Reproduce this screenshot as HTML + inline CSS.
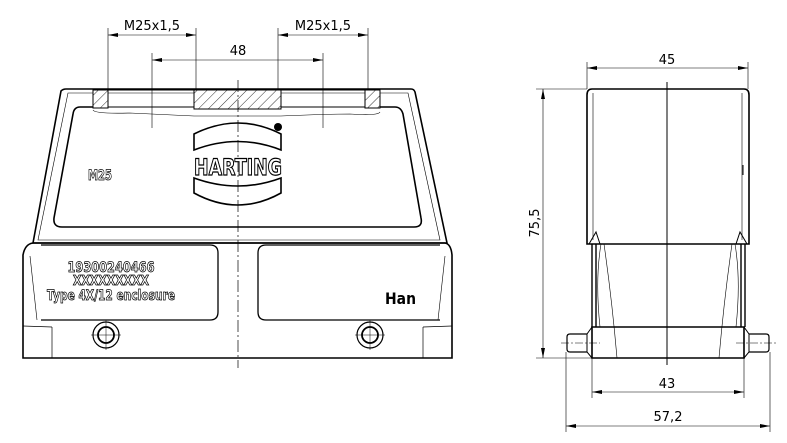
<!DOCTYPE html>
<html><head><meta charset="utf-8"><style>
html,body{margin:0;padding:0;background:#fff}
svg{display:block}
text{font-family:"DejaVu Sans","Liberation Sans",sans-serif}
</style></head><body>
<svg width="787" height="443" viewBox="0 0 787 443" xmlns="http://www.w3.org/2000/svg">
<defs>
<pattern id="h" width="7" height="7" patternUnits="userSpaceOnUse" patternTransform="rotate(45)">
<rect width="7" height="7" fill="#fff"/><line x1="0" y1="0" x2="0" y2="7" stroke="#000" stroke-width="0.8"/>
</pattern>
<marker id="a" viewBox="0 0 10 4" refX="10" refY="2" markerWidth="10" markerHeight="4" orient="auto-start-reverse" markerUnits="userSpaceOnUse"><path d="M0,0 L10,2 L0,4z" fill="#000"/></marker>
</defs>
<g fill="none" stroke="#000">
<path d="M61,91 Q63,89 66,89 L411,89 Q414,89 415,92 L447,243 L33,243 Z" stroke-width="1.6"/>
<path d="M68,93 L408,93 L440,240 L38,240 Z" stroke-width="0.6"/>
<path d="M23,358 L23,255 Q25,244 33,243 L445,243 Q451,244 452,255 L452,358 Z" stroke-width="1.6"/>
<line x1="52" y1="327" x2="52" y2="358" stroke-width="0.7"/>
<line x1="23" y1="326" x2="52" y2="327" stroke-width="0.7"/>
<line x1="423" y1="327" x2="423" y2="358" stroke-width="0.7"/>
<line x1="423" y1="327" x2="452" y2="326" stroke-width="0.7"/>
<line x1="30" y1="256" x2="37" y2="320" stroke-width="0.6"/>
<line x1="445" y1="256" x2="438" y2="320" stroke-width="0.6"/>
<path d="M93,107 L80,107 Q74,107 73,114 L54,218 Q53,227 62,227 L414,227 Q423,227 421,218 L403,114 Q401,107 395,107 L380,107" stroke-width="1.6"/>
<path d="M93,110 Q95,114 130,113 Q150,114 194,116 L281,116 Q330,114 350,114 Q378,116 380,112" stroke-width="0.6"/>
<rect x="108" y="90" width="86" height="17" stroke-width="1"/>
<rect x="281" y="90" width="84" height="17" stroke-width="1"/>
<rect x="93" y="90" width="15" height="18" fill="url(#h)" stroke-width="1"/>
<rect x="194" y="90" width="87" height="19" fill="url(#h)" stroke-width="1"/>
<rect x="365" y="90" width="15" height="18" fill="url(#h)" stroke-width="1"/>
<path d="M41,245 L210,245 Q218,245 218,253 L218,312 Q218,320 210,320 L41,320" stroke-width="1.3"/>
<path d="M440,245 L266,245 Q258,245 258,253 L258,312 Q258,320 266,320 L440,320" stroke-width="1.3"/>
<circle cx="106" cy="335" r="13" stroke-width="1.2"/><circle cx="106" cy="335" r="8" stroke-width="1.8"/>
<circle cx="370" cy="335" r="13" stroke-width="1.2"/><circle cx="370" cy="335" r="8" stroke-width="1.8"/>
<path d="M91,335h30M106,320v30M355,335h30M370,320v30" stroke-width="0.5"/>
<line x1="238" y1="80" x2="238" y2="368" stroke-width="0.7" stroke-dasharray="12,3,2,3"/>
<path d="M194,134 Q238,112 281,134 L281,150 Q238,133 194,150 Z" stroke-width="1.6"/>
<path d="M194,178 Q238,194 281,178 L281,193 Q238,217 194,193 Z" stroke-width="1.6"/>
<circle cx="278" cy="127" r="4" fill="#000" stroke="none"/>
<path d="M108,28V90M196,28V90M278,28V90M368,28V90M152,53V128M323,53V128M587,62V89M748,62V89M536,89H587M536,358H592M592,358V398M744,358V398M566,352V432M770,352V432" stroke-width="0.6"/>
<line x1="108" y1="35" x2="196" y2="35" stroke-width="0.6" marker-start="url(#a)" marker-end="url(#a)"/>
<line x1="278" y1="35" x2="368" y2="35" stroke-width="0.6" marker-start="url(#a)" marker-end="url(#a)"/>
<line x1="152" y1="60" x2="323" y2="60" stroke-width="0.6" marker-start="url(#a)" marker-end="url(#a)"/>
<line x1="587" y1="68" x2="748" y2="68" stroke-width="0.6" marker-start="url(#a)" marker-end="url(#a)"/>
<line x1="543" y1="89" x2="543" y2="358" stroke-width="0.6" marker-start="url(#a)" marker-end="url(#a)"/>
<line x1="592" y1="392" x2="744" y2="392" stroke-width="0.6" marker-start="url(#a)" marker-end="url(#a)"/>
<line x1="566" y1="426" x2="770" y2="426" stroke-width="0.6" marker-start="url(#a)" marker-end="url(#a)"/>
<path d="M592,89 L744,89 Q749,89 749,95 L749,244 L587,244 L587,95 Q587,89 592,89 Z" stroke-width="1.6"/>
<line x1="593" y1="93" x2="593" y2="240" stroke-width="0.6"/>
<line x1="742" y1="93" x2="742" y2="240" stroke-width="0.6"/>
<line x1="743" y1="165" x2="743" y2="175" stroke-width="1"/>
<path d="M589,244 L596,232 L600,244M747,244 L740,232 L736,244" stroke-width="1"/>
<path d="M592,244 L592,327 M596,244 L596,327 M745,244 L745,327 M741,244 L741,327" stroke-width="1.4"/>
<path d="M601,244 Q595,280 600,327 M604,244 Q612,300 617,358 M735,244 Q741,280 736,327 M732,244 Q724,300 719,358" stroke-width="0.6"/>
<line x1="600" y1="244" x2="736" y2="244" stroke-width="0.6"/>
<path d="M592,327 L744,327 L744,358 L592,358 Z" stroke-width="1.6"/>
<path d="M592,327 L587,334 L587,352 L592,358 M744,327 L749,334 L749,352 L744,358" stroke-width="1"/>
<path d="M587,334 L570,334 Q567,334 567,337 L567,349 Q567,352 570,352 L587,352 M749,334 L766,334 Q769,334 769,337 L769,349 Q769,352 766,352 L749,352" stroke-width="1.2"/>
<path d="M561,343H600M736,343H776" stroke-width="0.5" stroke-dasharray="8,2,2,2"/>
<line x1="667" y1="82" x2="667" y2="365" stroke-width="1"/>
</g>
<g font-size="13" fill="#000">
<text x="152" y="30" text-anchor="middle">M25x1,5</text>
<text x="323" y="30" text-anchor="middle">M25x1,5</text>
<text x="238" y="55" text-anchor="middle">48</text>
<text x="667" y="64" text-anchor="middle">45</text>
<text x="667" y="388" text-anchor="middle">43</text>
<text x="668" y="421" text-anchor="middle">57,2</text>
<text transform="translate(539,223) rotate(-90)" text-anchor="middle">75,5</text>
</g>
<g font-family="Liberation Sans,sans-serif" font-weight="bold" fill="#fff" stroke="#000" stroke-width="0.8" style="font-family:'Liberation Sans',sans-serif">
<text x="238" y="175" text-anchor="middle" font-size="22" stroke-width="1.2" textLength="88" lengthAdjust="spacingAndGlyphs">HARTING</text>
<text x="100" y="180" text-anchor="middle" font-size="14" textLength="24" lengthAdjust="spacingAndGlyphs">M25</text>
<text x="111" y="272" text-anchor="middle" font-size="14" textLength="87" lengthAdjust="spacingAndGlyphs">19300240466</text>
<text x="111" y="285" text-anchor="middle" font-size="13" textLength="76" lengthAdjust="spacingAndGlyphs">XXXXXXXXX</text>
<text x="111" y="300" text-anchor="middle" font-size="14" textLength="128" lengthAdjust="spacingAndGlyphs">Type 4X/12 enclosure</text>
</g>
<text x="385" y="304" font-family="Liberation Sans,sans-serif" font-weight="bold" font-size="16" fill="#000" textLength="31" lengthAdjust="spacingAndGlyphs">Han</text>
</svg>
</body></html>
